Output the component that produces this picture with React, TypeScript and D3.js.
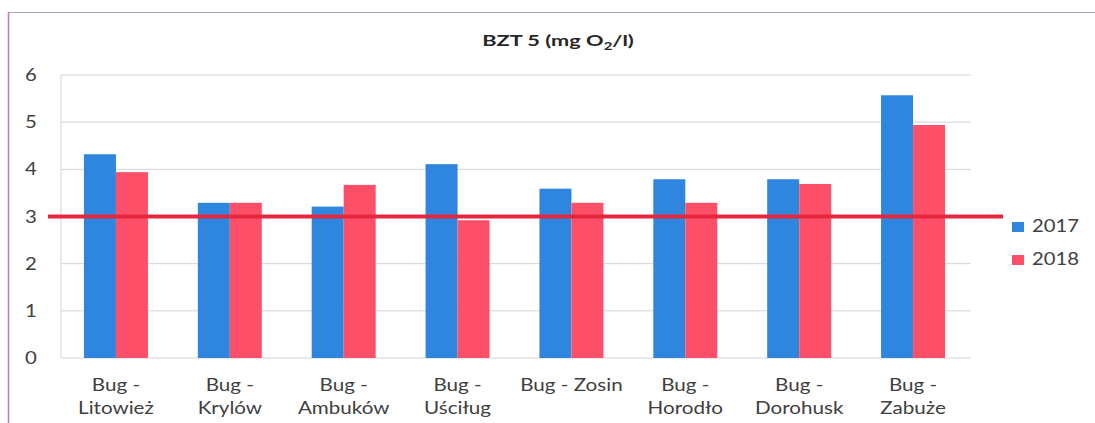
import React from "react";
import * as d3 from "d3";

const categories = [
  ["Bug -", "Litowież"],
  ["Bug -", "Krylów"],
  ["Bug -", "Ambuków"],
  ["Bug -", "Uściług"],
  ["Bug - Zosin"],
  ["Bug -", "Horodło"],
  ["Bug -", "Dorohusk"],
  ["Bug -", "Zabuże"],
];
const series2017 = [4.32, 3.29, 3.21, 4.11, 3.59, 3.79, 3.79, 5.57];
const series2018 = [3.94, 3.29, 3.67, 2.92, 3.29, 3.29, 3.69, 4.94];
const seriesNames = ["2017", "2018"];
const yTicks = [0, 1, 2, 3, 4, 5, 6];
const limitValue = 3;
const title = "BZT 5 (mg O";

const W = 1095;
const H = 423;
const plot = { left: 61, right: 971, top: 75, bottom: 358 };
const colors = ["#2f86de", "#fd5068"];
const font = "Lato, 'Open Sans', sans-serif";
const textColor = "#404040";

export default function App() {
  const x0 = d3
    .scaleBand<number>()
    .domain(categories.map((_, i) => i))
    .range([59, 970])
    .paddingInner(0.438)
    .paddingOuter(0.219);
  const x1 = d3.scaleBand<number>().domain([0, 1]).range([0, x0.bandwidth()]);
  const y = d3.scaleLinear().domain([0, 6]).range([plot.bottom, plot.top]);
  const data = [series2017, series2018];

  return (
    <svg
      width={W}
      height={H}
      style={{ position: "absolute", left: 0, top: 0, background: "#fff" }}
    >
      <rect x={8.5} y={12.5} width={1100} height={420} fill="none" stroke="#a8a8b8" strokeWidth={1} />
      <line x1={8.5} y1={12} x2={8.5} y2={423} stroke="#c07ab0" strokeWidth={1.5} />
      <g transform="translate(558,46) scale(1.36,1)">
        <text x={0} y={0} textAnchor="middle" fontFamily={font} fontWeight="bold" fontSize={16} fill="#262626">
          {title}
          <tspan fontSize={11} dy={4}>2</tspan>
          <tspan dy={-4}>/l)</tspan>
        </text>
      </g>
      {yTicks.map((t) => (
        <g key={t}>
          <line x1={plot.left} x2={plot.right} y1={y(t)} y2={y(t)} stroke="#d4d4d4" strokeWidth={1} />
          <g transform={`translate(31,${y(t) + 6}) scale(1.2,1)`}>
            <text x={0} y={0} textAnchor="middle" fontFamily={font} fontSize={17} fill={textColor}>
              {t}
            </text>
          </g>
        </g>
      ))}
      <line x1={plot.left} x2={plot.left} y1={plot.top} y2={plot.bottom} stroke="#d4d4d4" />
      {categories.map((c, i) => (
        <g key={i}>
          {data.map((s, j) => (
            <rect
              key={j}
              x={(x0(i) as number) + (x1(j) as number)}
              y={y(s[i])}
              width={x1.bandwidth()}
              height={y(0) - y(s[i])}
              fill={colors[j]}
            />
          ))}
          {c.map((line, k) => (
            <g
              key={k}
              transform={`translate(${(x0(i) as number) + x0.bandwidth() / 2},${391 + k * 23}) scale(1.25,1)`}
            >
              <text x={0} y={0} textAnchor="middle" fontFamily={font} fontSize={16.5} fill={textColor}>
                {line}
              </text>
            </g>
          ))}
        </g>
      ))}
      <line x1={48} x2={1003} y1={y(limitValue)} y2={y(limitValue)} stroke="#e5273d" strokeWidth={4} />
      {seriesNames.map((n, j) => (
        <g key={n}>
          <rect x={1012} y={222 + j * 33} width={12} height={10} fill={colors[j]} />
          <g transform={`translate(1032,${232 + j * 33}) scale(1.19,1)`}>
            <text x={0} y={0} fontFamily={font} fontSize={17} fill={textColor}>
              {n}
            </text>
          </g>
        </g>
      ))}
    </svg>
  );
}
